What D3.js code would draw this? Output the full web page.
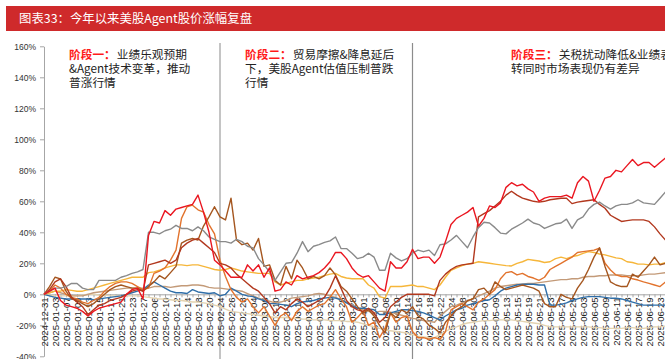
<!DOCTYPE html>
<html><head><meta charset="utf-8">
<script src="https://cdn.jsdelivr.net/npm/d3@7"></script>
<style>body{margin:0;background:#fff;overflow:hidden}svg{display:block}</style>
</head><body><svg id="c" width="665" height="359"></svg>
<script>
const dates = ["2024-12-31","2025-01-02","2025-01-03","2025-01-06","2025-01-07","2025-01-08","2025-01-09","2025-01-10","2025-01-13","2025-01-14","2025-01-15","2025-01-16","2025-01-17","2025-01-20","2025-01-21","2025-01-22","2025-01-23","2025-01-24","2025-01-27",
"2025-02-05","2025-02-06","2025-02-07","2025-02-10","2025-02-11","2025-02-12","2025-02-13","2025-02-14","2025-02-17","2025-02-18","2025-02-19","2025-02-20","2025-02-21","2025-02-24","2025-02-25","2025-02-26","2025-02-27","2025-02-28",
"2025-03-03","2025-03-04","2025-03-05","2025-03-06","2025-03-07","2025-03-10","2025-03-11","2025-03-12","2025-03-13","2025-03-14","2025-03-17","2025-03-18","2025-03-19","2025-03-20","2025-03-21","2025-03-24","2025-03-25","2025-03-26","2025-03-27","2025-03-28","2025-03-31",
"2025-04-01","2025-04-02","2025-04-03","2025-04-07","2025-04-08","2025-04-09","2025-04-10","2025-04-11","2025-04-14","2025-04-15","2025-04-16","2025-04-17","2025-04-18","2025-04-21","2025-04-22","2025-04-23","2025-04-24","2025-04-25","2025-04-28","2025-04-29","2025-04-30",
"2025-05-06","2025-05-07","2025-05-08","2025-05-09","2025-05-12","2025-05-13","2025-05-14","2025-05-15","2025-05-16","2025-05-19","2025-05-20","2025-05-21","2025-05-22","2025-05-23","2025-05-26","2025-05-27","2025-05-28","2025-05-29","2025-05-30",
"2025-06-03","2025-06-04","2025-06-05","2025-06-06","2025-06-09","2025-06-10","2025-06-11","2025-06-12","2025-06-13","2025-06-16","2025-06-17","2025-06-18","2025-06-19","2025-06-20","2025-06-23","2025-06-24"];

const xTickLabels = ["2024-12-31","2025-01-03","2025-01-07","2025-01-09","2025-01-13","2025-01-15","2025-01-17","2025-01-21","2025-01-23","2025-01-27",
"2025-02-06","2025-02-10","2025-02-12","2025-02-14","2025-02-18","2025-02-20","2025-02-24","2025-02-26","2025-02-28",
"2025-03-04","2025-03-06","2025-03-10","2025-03-12","2025-03-14","2025-03-18","2025-03-20","2025-03-24","2025-03-26","2025-03-28",
"2025-04-01","2025-04-03","2025-04-08","2025-04-10","2025-04-14","2025-04-16","2025-04-18","2025-04-22","2025-04-24","2025-04-28","2025-04-30",
"2025-05-07","2025-05-09","2025-05-13","2025-05-15","2025-05-19","2025-05-21","2025-05-23","2025-05-27","2025-05-29",
"2025-06-03","2025-06-05","2025-06-09","2025-06-11","2025-06-13","2025-06-17","2025-06-19","2025-06-23"];

const yTicks = [-40,-20,0,20,40,60,80,100,120,140,160];

// series values, % change since 2024-12-31
const redSeries = [0,2,4,-4,-7,-8,-9,-11,-14,-11,
-9,-8,-7,-6,-5,0,3,4,-3,38,
47,46,54,51,55,56,57,58,64,53,
40,22,19,15,11,11,11,19,15,19,
11,17,2,3,8,6,12,10,11,12,
14,17,21,27,27,23,17,13,11,12,
8,4,2,21,17,17,21,29,23,24,
24,20,24,34,45,49,51,53,56,44,
49,57,56,59,69,72,70,71,68,66,
60,62,63,63,63,64,62,72,76,73,
60,67,75,76,80,79,83,87,83,85,
85,82,85,88];
const graySeries = [0,2,4,4,5,7,7,4,3,3,
9,9,9,9,11,12,13.5,14.5,16,40,
40,39,41,42,44.5,42.5,42.5,41,43.5,41,
37,35.5,34,34,33,35.5,34,31,30,23,
19,14.5,9,14.5,20,20.5,26.5,34,27.5,31,
32,33.5,34.5,37,29.5,29.5,26.5,23,24,26.5,
24,15.5,15.5,26.5,23.5,21.5,23,26.5,28.5,27.5,
28.5,25,32,32.5,35,38,34,30,37,43,
46.5,46,43,39.5,39,42,44,46,48.5,46,
45,42.5,44,45.5,46,48.5,42.5,48,50,55,
58,59.5,57,55,57,58,58,59,61,59,
58.5,58,62,66];
const darkRedSeries = [0,3,8,10,5,-2,-5,-8,-13,-10,
-7,-6,-4,-3,-2,0,2,3,2,19,
20,21,22,20,22,30,33,35,36,33,
30,27,20,19,17,13,10,7,4,2,
-2,-6,-12,-8,-10,-6,-3,-5,-8,-6,
-4,-2,4,12,4,-4,-8,-10,-11,-9,
-12,-18,-15,-8,-5,-2,0,0,0,0,
0,-1,9,13,16,18,19,19.5,20,50,
52,54,57,60,64,66.5,64,62,61,60,
59.5,60,61,61.5,62,62,58.5,59.5,60,60.5,
61,58,55.5,51,49,47,47.5,48,48,48,
47,43.5,39,35];
const siennaSeries = [0,5,11,10,2,-3,-4,-6,-8,-6,
-3,0,3,5,6,5,4,4,2,5,
8,12,10,14,18,33,35,36,35,44,
50,56.5,50,48,62,35,32,33,28.5,36,
18,19,9,6,18,10,22,17,10,11.5,
10,12,17,12.5,5,2,-3,-8,-12,-10,
-14,-20,-25,-12,-15,-10,-12,-8,-14,-16,
-20,-22,-25,-18,-14,-10,-8,-4,-3,3,
4,0,8,5,3,4,5,6,5,4,
2,-6,-8,-8,0,-2,-3,4,9,16,
24,30,18,8,6,5,5,13,11,15,
19,24,19,20];
const orangeSeries = [0,2,6,4,0,-2,-3,-5,-6,-4,
-2,2,5,7,8,8,7,5,3,4,
13.5,15,17,22,28.5,49,56.5,57.5,54.5,53,
45,39,22,11.5,3,-2,-5,-3,-8,-12,
-8,-14,-20,-14,-12,-17,-11,-8,-11,-9,
-7,-6,-2,3,-3,-8,-18,-15,-11,-20,
-18,-28,-22,-12,-18,-15,-14,-24,-28,-28,
-29,-28,-29,-24,-10,-8,-6,-8,-10,-5,
-3,0,3,10,14,14.6,12.5,13.5,11.5,10.5,
9,11,16,18,20,22,24,27,27.5,28,
28.5,29.7,20,15.7,12.5,11.5,11.4,10,9.2,8,
7,6,5,8];
const yellowSeries = [0,1,2,2,3,2.5,2,2,3,4,
5,6,7,8,9,10,11,11,11,14,
14.5,15.5,17,18,19,19,18.5,19,19,18,
17,16,15.5,16,17,16,15,14.5,14,13.5,
13.5,13.5,8,6,7,8,9,9,10,10.5,
11,12,13,13.5,11.5,10.5,10,10,10,6,
4,-1.5,-2.5,5,5,5,5.5,6,5,5,
4,3,6,11,15.5,17,18.5,19.5,20,21,
20.5,20,19.5,19,18.5,18.3,20,21,22.5,22,
21.5,20.5,21,23,24,23,24.3,25,26.4,27.5,
27,26,25.4,24.5,23.5,23,21,20.5,19.5,19.5,
19,19.5,19.5,20.4];
const tanSeries = [0,1,2,1,0,-1,-1,-1,0,1,
1.5,2,2.5,3,3.5,4,4,4,4,4,
5,5,5,4.5,5,5.5,5.5,6,6,5.5,
4.5,4,4,3.5,3,2.5,2,0.5,-1,-2.5,
-3.5,-4.5,-5.5,-5,-4,-2.5,-2,-1.5,-1,0,
0.5,0,-1,-2,-3.5,-5,-7,-9,-10,-11,
-12,-11,-11,-11.5,-12.5,-13.5,-14.5,-15.5,-16,-17,
-17.5,-18,-14,-11,-8,-7,-5.5,-4.5,-3,-1,
0.5,2,4,5,5.5,6,6.5,6.5,7,7,
7.5,8,8.5,9,9.5,9.5,10,10,11,11.5,
11.5,12,12,12.5,12.5,12.5,12,12,12,12.5,
13,13,13.5,14];
const blueSeries = [0,-1,-2,-2.5,-3,-3,-3,-3,-3,-3.5,
-3,-2.5,-2,-1.5,-1,0,1,2,3,6,
8,6,4,2,1,1,0.5,3,1.5,1,
0.5,1,-1,0,4,2,0,-1,-1.5,-3,
-4,-6,-6,-6.5,-7,-8,-6,-5,-4.5,-4,
-3,-2.5,-2,-2.5,-3.5,-5.5,-7.5,-9,-9,-9.5,
-10,-13,-13,-12,-11,-10,-10,-10.5,-11,-12,
-13.5,-15,-16.5,-14,-12,-10,-9,-7,-6,-5,
-4,-3.5,-1,2,4,5,6,6.5,6.5,6.5,
6,6,-7,-7,-6.5,-5.5,-4,-3,-2,-1.5,
-1.5,-1.5,-2,-2.5,-2.5,-3,-4,-5,-6,-7,
-7,-7,-7,-7];
const beigeSeries = [0,-0.5,-1,-1,-1,-1,-1,-0.5,0,0,
-0.5,-0.5,-1,-1,-1,-1,-1,-1,-1.5,-2,
-2.5,-3,-3,-3.5,-4,-4,-4.5,-5,-5,-5.5,
-6,-7,-8,-9.5,-11,-11.5,-12,-12.5,-13,-13.5,
-14,-14.5,-15,-15,-15,-15.5,-15.5,-16,-16,-16.5,
-16.5,-16.5,-17,-17,-17,-17.5,-17.5,-18,-19,-20,
-21,-22,-23,-23.5,-24,-24.5,-25,-26,-27,-27.5,
-28,-28,-26,-24,-22,-21,-19.5,-18.5,-18,-17.5,
-17,-17,-16.5,-16.5,-16.5,-16.5,-17,-17.5,-18,-18.5,
-19,-20,-21,-21,-21,-21,-21,-21,-21,-21,
-21.5,-21.5,-22,-22,-22,-22,-21.5,-21.5,-22,-22,
-21.5,-21,-21,-20.5];

const seriesList = [
  {values: beigeSeries, color: "#e3d3b1"},
  {values: tanSeries, color: "#c39a78"},
  {values: blueSeries, color: "#2f6ea8"},
  {values: yellowSeries, color: "#f6b63a"},
  {values: orangeSeries, color: "#e2732d"},
  {values: siennaSeries, color: "#a5561f"},
  {values: darkRedSeries, color: "#b2381e"},
  {values: graySeries, color: "#8a8a8a"},
  {values: redSeries, color: "#ea1620"}
];

const stageDates = ["2025-02-24","2025-04-15"];
const stageHeads = ["阶段一：","阶段二：","阶段三："];
const stageLines = [
  ["业绩乐观预期","&Agent技术变革，推动","普涨行情"],
  ["贸易摩擦&降息延后","下，美股Agent估值压制普跌","行情"],
  ["关税扰动降低&业绩表现好","转同时市场表现仍有差异"]
];
const titleText = "图表33：今年以来美股Agent股价涨幅复盘";

const svg = d3.select("#c");
const W = 665, H = 359;
const x = d3.scalePoint().domain(dates).range([44, 665.5]);
const y = d3.scaleLinear().domain([-40,160]).range([356.3, 46.3]);
const cjk = "'Noto Sans CJK SC', sans-serif";
const latin = "'Liberation Sans', Arial, sans-serif";

// title band
svg.append("rect").attr("x",6).attr("y",6).attr("width",W-6).attr("height",25).attr("fill","#cf2a2b");
svg.append("text").attr("x",19).attr("y",23).attr("fill","#fff")
  .style("font-family",cjk).style("font-size","12.4px").text(titleText);

// stage separators
const sepStyles = [{c:"#c4c4c4",w:2},{c:"#8c8c8c",w:1.2}];
stageDates.forEach((d,i)=>{
  svg.append("line").attr("x1",x(d)).attr("x2",x(d)).attr("y1",43).attr("y2",H)
    .attr("stroke",sepStyles[i].c).attr("stroke-width",sepStyles[i].w);
});

// y axis
const yAxis = svg.append("g").attr("transform","translate(44,0)")
  .call(d3.axisLeft(y).tickValues(yTicks).tickFormat(d=>d+"%").tickSize(4).tickSizeOuter(0).tickPadding(4));
yAxis.select(".domain").attr("stroke","#a6a6a6");
yAxis.selectAll(".tick line").attr("stroke","#a6a6a6");
yAxis.selectAll("text").attr("fill","#333").style("font-family",latin).style("font-size","8.5px");

// x axis at 0
const labelSet = new Set(xTickLabels);
const xAxis = svg.append("g").attr("transform",`translate(0,${y(0)})`)
  .call(d3.axisBottom(x).tickValues(dates).tickSize(3).tickSizeOuter(0).tickFormat(d=>labelSet.has(d)?d:""));
xAxis.select(".domain").attr("stroke","#a6a6a6");
xAxis.selectAll(".tick line").attr("stroke","#a6a6a6");
xAxis.selectAll("text")
  .attr("transform","rotate(-90)")
  .attr("text-anchor","end")
  .attr("x",-3).attr("y",0).attr("dy","0.35em")
  .attr("fill","#222")
  .style("font-family",latin).style("font-size","9.6px");

// lines
const line = d3.line().x((d,i)=>x(dates[i])).y(d=>y(d));
svg.append("g").selectAll("path").data(seriesList).join("path")
  .attr("d",s=>line(s.values)).attr("fill","none")
  .attr("stroke",s=>s.color).attr("stroke-width",1.4).attr("stroke-linejoin","round");

// stage annotations (one text element per piece)
const stagePos = [[69,58.5],[245,58.5],[511,58.5]];
const annFont = "11.7px";
const ann = svg.append("g");
stageHeads.forEach((h,i)=>{
  const [sx, sy] = stagePos[i];
  const head = ann.append("text").attr("x",sx).attr("y",sy).attr("fill","#ff1a1a")
    .style("font-family",cjk).style("font-size",annFont).style("font-weight","bold").text(h);
  const hw = head.node().getComputedTextLength();
  stageLines[i].forEach((ln,j)=>{
    ann.append("text")
      .attr("x", j===0 ? sx + hw + 1 : sx)
      .attr("y", sy + j*14)
      .attr("fill","#222")
      .style("font-family",cjk).style("font-size",annFont).text(ln);
  });
});
</script></body></html>
